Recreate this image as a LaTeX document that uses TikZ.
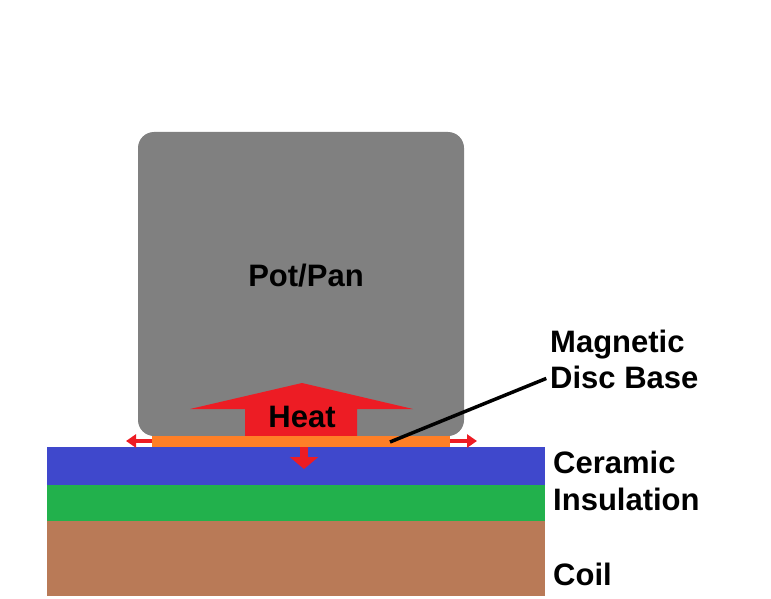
\documentclass[tikz,border=0pt]{standalone}
\usepackage{fontspec}
\setmainfont{Liberation Sans}
\usepackage{tikz}
\usetikzlibrary{arrows.meta, positioning, calc}
\definecolor{potgray}{RGB}{128, 128, 128}
\definecolor{heatred}{RGB}{237, 28, 36}
\definecolor{discorange}{RGB}{255, 127, 39}
\definecolor{ceramicblue}{RGB}{63, 72, 204}
\definecolor{insulgreen}{RGB}{34, 177, 76}
\definecolor{coilbrown}{RGB}{185, 122, 87}

\begin{document}
\begin{tikzpicture}[x=1pt, y=-1pt,
    txt/.style={font=\fontsize{31}{36}\selectfont\bfseries, inner sep=0pt},
    lbl/.style={txt, anchor=base west},
    spread/.style={draw=heatred, line width=4pt,
      -{Triangle[length=10pt, width=13pt]}},
    sink/.style={draw=heatred, line width=8pt,
      -{Triangle[length=12pt, width=28pt]}},
    leader/.style={draw=black, line width=3.5pt, shorten >=4pt}
  ]
    \useasboundingbox (0,0) rectangle (771,599);

    % layers of the hob
    \fill[coilbrown] (47,521) rectangle (545,596);
    \fill[insulgreen] (47,485) rectangle (545,521);
    \fill[ceramicblue] (47,447) rectangle (545,485);

    % pot
    \fill[potgray, rounded corners=16pt] (138,132) rectangle (464,436);
    \node[txt, anchor=base] (pot) at (306,286) {Pot/Pan};

    % big heat arrow
    \fill[heatred] (245,437) -- (245,409) -- (190,409) -- (302,383)
      -- (413,409) -- (357,409) -- (357,437) -- cycle;
    \node[txt, anchor=base] (heat) at (302,427) {Heat};

    % disc base
    \fill[discorange] (152,436) rectangle (450,447);
    \coordinate (dl) at (152,441);
    \coordinate (dr) at (450,441);
    \coordinate (dc) at (304,447);
    \coordinate (tl) at (126,441);
    \coordinate (tr) at (477,441);
    \coordinate (tb) at (304,469);
    \draw[spread] (dl) -- (tl);
    \draw[spread] (dr) -- (tr);
    \draw[sink] (dc) -- (tb);

    % labels
    \node[lbl] (mag) at (550,352) {Magnetic};
    \node[lbl] (disc) at (550,388) {Disc Base};
    \node[lbl] (cer) at (553,473) {Ceramic};
    \node[lbl] (ins) at (553,510) {Insulation};
    \node[lbl] (coil) at (553,585) {Coil};

    \coordinate (dp) at (390,442);
    \draw[leader] (dp) -- (disc.west);
  \end{tikzpicture}
\end{document}
